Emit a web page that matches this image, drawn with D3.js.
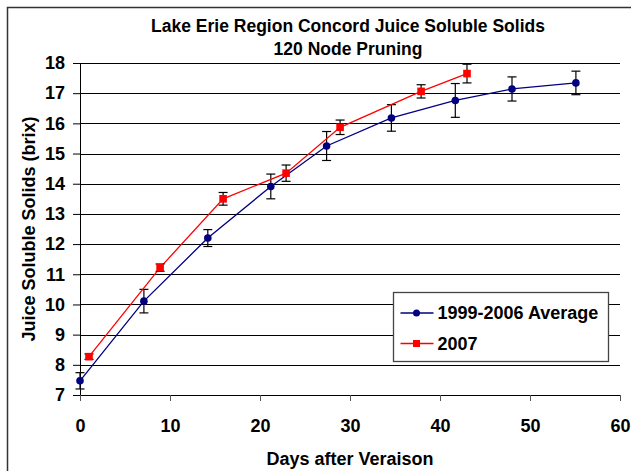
<!DOCTYPE html>
<html>
<head>
<meta charset="utf-8">
<script src="https://cdn.jsdelivr.net/npm/d3@7"></script>
<style>
  body { margin: 0; background: #fff; }
  svg text { font-family: "Liberation Sans", Arial, sans-serif; font-weight: bold; fill: #000; }
</style>
</head>
<body>
<div id="chart"></div>
<script>

// 1. Data

const avgDays = [0, 7.1, 14.2, 21.2, 27.4, 34.6, 41.7, 48, 55.1]
const avgBrix = [7.47, 10.11, 12.2, 13.91, 15.25, 16.18, 16.76, 17.14, 17.34]
const avgErr  = [0.27, 0.39, 0.28, 0.41, 0.48, 0.44, 0.56, 0.4, 0.39]

const days2007 = [1, 8.9, 15.9, 22.9, 28.9, 37.9, 43]
const brix2007 = [8.27, 11.22, 13.5, 14.35, 15.87, 17.06, 17.65]
const err2007  = [0.09, 0.12, 0.21, 0.27, 0.24, 0.22, 0.31]

const xTicks = [0, 10, 20, 30, 40, 50, 60]
const yTicks = [7, 8, 9, 10, 11, 12, 13, 14, 15, 16, 17, 18]

const seriesNames = ["1999-2006 Average", "2007"]
const titleLines = ["Lake Erie Region Concord Juice Soluble Solids", "120 Node Pruning"]

const series = [
  { name: seriesNames[0], color: "#000080", shape: "circle",
    points: avgDays.map((d, i) => ({ x: d, y: avgBrix[i], e: avgErr[i] })) },
  { name: seriesNames[1], color: "#ff0000", shape: "square",
    points: days2007.map((d, i) => ({ x: d, y: brix2007[i], e: err2007[i] })) },
]

// 2. Dimensions

const dimensions = {
  width: 631,
  height: 471,
  margin: { top: 63, right: 11, bottom: 76, left: 80 },
}
dimensions.boundedWidth = dimensions.width - dimensions.margin.left - dimensions.margin.right
dimensions.boundedHeight = dimensions.height - dimensions.margin.top - dimensions.margin.bottom

// 3. Canvas

const svg = d3.select("#chart")
  .append("svg")
    .attr("width", dimensions.width)
    .attr("height", dimensions.height)

// outer chart border (runs off the right and bottom edges)
svg.append("rect")
    .attr("x", 7.5)
    .attr("y", 7.5)
    .attr("width", 700)
    .attr("height", 600)
    .attr("fill", "none")
    .attr("stroke", "#333")
    .attr("stroke-width", 1.5)

const bounds = svg.append("g")
    .attr("transform", `translate(${dimensions.margin.left},${dimensions.margin.top})`)

// 4. Scales

const xScale = d3.scaleLinear()
    .domain([0, 60])
    .range([0, dimensions.boundedWidth])

const yScale = d3.scaleLinear()
    .domain([7, 18])
    .range([dimensions.boundedHeight, 0])

// 5. Gridlines + axes

bounds.append("g")
  .selectAll("line")
  .data(yTicks.slice(1))
  .join("line")
    .attr("x1", 0)
    .attr("x2", dimensions.boundedWidth)
    .attr("y1", d => Math.round(yScale(d)) + 0.5)
    .attr("y2", d => Math.round(yScale(d)) + 0.5)
    .attr("stroke", "#000")
    .attr("stroke-width", 1)

const yAxis = bounds.append("g")
    .call(d3.axisLeft(yScale).tickValues(yTicks).tickSize(7).tickPadding(8).tickFormat(d3.format("d")))
yAxis.select(".domain").attr("stroke", "#000")
yAxis.selectAll(".tick line").attr("stroke", "#000")
yAxis.selectAll("text").style("font-size", "18px").attr("fill", "#000")

const xAxis = bounds.append("g")
    .attr("transform", `translate(0,${dimensions.boundedHeight})`)
    .call(d3.axisBottom(xScale).tickValues(xTicks).tickSizeInner(6).tickSizeOuter(0).tickPadding(18).tickFormat(d3.format("d")))
xAxis.select(".domain").attr("stroke", "#000")
xAxis.selectAll(".tick line").attr("stroke", "#555")
xAxis.selectAll("text").style("font-size", "18px").attr("fill", "#000")

// 6. Series

const lineGen = d3.line()
    .x(d => xScale(d.x))
    .y(d => yScale(d.y))

series.forEach(s => {
  const g = bounds.append("g")

  g.append("path")
      .datum(s.points)
      .attr("d", lineGen)
      .attr("fill", "none")
      .attr("stroke", s.color)
      .attr("stroke-width", 1.3)

  // error bars
  const eb = g.selectAll(".err")
    .data(s.points)
    .join("g")
      .attr("class", "err")
  eb.append("line")
      .attr("x1", d => xScale(d.x)).attr("x2", d => xScale(d.x))
      .attr("y1", d => yScale(d.y - d.e)).attr("y2", d => yScale(d.y + d.e))
      .attr("stroke", "#000").attr("stroke-width", 1.2)
  ;[-1, 1].forEach(sign => {
    eb.append("line")
        .attr("x1", d => xScale(d.x) - 4.5).attr("x2", d => xScale(d.x) + 4.5)
        .attr("y1", d => yScale(d.y + sign * d.e)).attr("y2", d => yScale(d.y + sign * d.e))
        .attr("stroke", "#000").attr("stroke-width", 1.2)
  })

  if (s.shape === "circle") {
    g.selectAll("circle")
      .data(s.points)
      .join("circle")
        .attr("cx", d => xScale(d.x))
        .attr("cy", d => yScale(d.y))
        .attr("r", 3.8)
        .attr("fill", s.color)
  } else {
    g.selectAll("rect")
      .data(s.points)
      .join("rect")
        .attr("x", d => xScale(d.x) - 3.8)
        .attr("y", d => yScale(d.y) - 3.8)
        .attr("width", 7.6)
        .attr("height", 7.6)
        .attr("fill", s.color)
  }
})

// 7. Peripherals

const plotCenter = dimensions.margin.left + dimensions.boundedWidth / 2

svg.append("text")
    .attr("x", plotCenter - 2)
    .attr("text-anchor", "middle")
    .style("font-size", "17.5px")
  .selectAll("tspan")
  .data(titleLines)
  .join("tspan")
    .attr("x", plotCenter - 2)
    .attr("y", (d, i) => 32 + i * 23)
    .text(d => d)

svg.append("text")
    .attr("x", plotCenter)
    .attr("y", 465)
    .attr("text-anchor", "middle")
    .style("font-size", "18px")
    .text("Days after Veraison")

svg.append("text")
    .attr("transform", `translate(35,${dimensions.margin.top + dimensions.boundedHeight / 2}) rotate(-90)`)
    .attr("text-anchor", "middle")
    .style("font-size", "18px")
    .text("Juice Soluble Solids (brix)")

const legend = svg.append("g")
    .attr("transform", "translate(393.5,292.5)")

legend.append("rect")
    .attr("width", 215)
    .attr("height", 69)
    .attr("fill", "#fff")
    .attr("stroke", "#444")
    .attr("stroke-width", 1.3)

const legendItems = legend.selectAll(".item")
  .data(series)
  .join("g")
    .attr("class", "item")
    .attr("transform", (d, i) => `translate(0,${20.5 + i * 30.5})`)

legendItems.append("line")
    .attr("x1", 7).attr("x2", 40)
    .attr("stroke", d => d.color)
    .attr("stroke-width", 1.3)

legendItems.each(function (d) {
  const item = d3.select(this)
  if (d.shape === "circle") {
    item.append("circle").attr("cx", 23).attr("r", 3.5).attr("fill", d.color)
  } else {
    item.append("rect").attr("x", 19.5).attr("y", -3.5).attr("width", 7).attr("height", 7).attr("fill", d.color)
  }
})

legendItems.append("text")
    .attr("x", 44)
    .attr("dy", "0.35em")
    .style("font-size", "18px")
    .text(d => d.name)

</script>
</body>
</html>
